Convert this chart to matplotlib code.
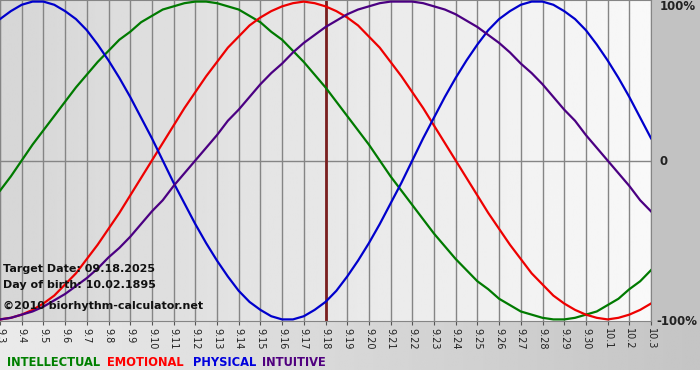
import numpy as np
import matplotlib.pyplot as plt

# day labels 9.3 .. 10.3
days = ["9.3", "9.4", "9.5", "9.6", "9.7", "9.8", "9.9", "9.10", "9.11", "9.12",
        "9.13", "9.14", "9.15", "9.16", "9.17", "9.18", "9.19", "9.20", "9.21", "9.22",
        "9.23", "9.24", "9.25", "9.26", "9.27", "9.28", "9.29", "9.30", "10.1", "10.2", "10.3"]
target_day = "9.18"

# curve values every half day (1 = 100%)
physical = [0.89, 0.94, 0.98, 1.00, 1.00, 0.98, 0.94, 0.89, 0.82, 0.73,
            0.63, 0.52, 0.40, 0.27, 0.14, 0.00, -0.14, -0.27, -0.40, -0.52,
            -0.63, -0.73, -0.82, -0.89, -0.94, -0.98, -1.00, -1.00, -0.98, -0.94,
            -0.89, -0.82, -0.73, -0.63, -0.52, -0.40, -0.27, -0.14, 0.00, 0.14,
            0.27, 0.40, 0.52, 0.63, 0.73, 0.82, 0.89, 0.94, 0.98, 1.00,
            1.00, 0.98, 0.94, 0.89, 0.82, 0.73, 0.63, 0.52, 0.40, 0.27, 0.14]
emotional = [-1.00, -0.99, -0.97, -0.94, -0.90, -0.85, -0.78, -0.71, -0.62, -0.53,
             -0.43, -0.33, -0.22, -0.11, 0.00, 0.11, 0.22, 0.33, 0.43, 0.53,
             0.62, 0.71, 0.78, 0.85, 0.90, 0.94, 0.97, 0.99, 1.00, 0.99,
             0.97, 0.94, 0.90, 0.85, 0.78, 0.71, 0.62, 0.53, 0.43, 0.33,
             0.22, 0.11, 0.00, -0.11, -0.22, -0.33, -0.43, -0.53, -0.62, -0.71,
             -0.78, -0.85, -0.90, -0.94, -0.97, -0.99, -1.00, -0.99, -0.97, -0.94, -0.90]
intellectual = [-0.19, -0.10, 0.00, 0.10, 0.19, 0.28, 0.37, 0.46, 0.54, 0.62,
                0.69, 0.76, 0.81, 0.87, 0.91, 0.95, 0.97, 0.99, 1.00, 1.00,
                0.99, 0.97, 0.95, 0.91, 0.87, 0.81, 0.76, 0.69, 0.62, 0.54,
                0.46, 0.37, 0.28, 0.19, 0.10, 0.00, -0.10, -0.19, -0.28, -0.37,
                -0.46, -0.54, -0.62, -0.69, -0.76, -0.81, -0.87, -0.91, -0.95, -0.97,
                -0.99, -1.00, -1.00, -0.99, -0.97, -0.95, -0.91, -0.87, -0.81, -0.76, -0.69]
intuitive = [-1.00, -0.99, -0.97, -0.95, -0.92, -0.88, -0.84, -0.79, -0.74, -0.68,
             -0.61, -0.55, -0.48, -0.40, -0.32, -0.25, -0.16, -0.08, 0.00, 0.08,
             0.16, 0.25, 0.32, 0.40, 0.48, 0.55, 0.61, 0.68, 0.74, 0.79,
             0.84, 0.88, 0.92, 0.95, 0.97, 0.99, 1.00, 1.00, 1.00, 0.99,
             0.97, 0.95, 0.92, 0.88, 0.84, 0.79, 0.74, 0.68, 0.61, 0.55,
             0.48, 0.40, 0.32, 0.25, 0.16, 0.08, 0.00, -0.08, -0.16, -0.25, -0.32]

x = np.arange(len(days))
xs = np.linspace(0, len(days) - 1, len(physical))

fig = plt.figure(figsize=(7, 3.8), dpi=100)

# background panels (right margin + bottom strip), pixel coords
bg = fig.add_axes([0, 0, 1, 1], zorder=-10)
bg.set_xlim(0, 700)
bg.set_ylim(380, 0)
bg.axis("off")
bg.add_patch(plt.Rectangle((651, 0), 49, 321, color="#c2c2c2", lw=0))
strip = np.linspace(0.92, 0.77, 256).reshape(1, -1)
bg.imshow(strip, extent=(0, 700, 370, 321), aspect="auto", cmap="gray", vmin=0, vmax=1)

ax = fig.add_axes([0, 59 / 380, 651 / 700, 321 / 380])
grad = np.linspace(0.84, 0.975, 256).reshape(1, -1)
ax.imshow(grad, extent=(0, 30, -1.01, 1.01), aspect="auto", cmap="gray",
          vmin=0, vmax=1, zorder=0)

for i in x:
    ax.axvline(i, color="#858585", lw=1, zorder=1)
ax.axhline(0, color="#858585", lw=1, zorder=1)

ax.axvline(days.index(target_day), color="#7a1f1f", lw=2, zorder=2)

lw = 1.6
ax.plot(xs, intellectual, color="#007a00", lw=lw, zorder=3)
ax.plot(xs, emotional, color="#ee0000", lw=lw, zorder=3)
ax.plot(xs, physical, color="#0000cc", lw=lw, zorder=3)
ax.plot(xs, intuitive, color="#4b0082", lw=lw, zorder=3)

ax.set_xlim(0, 30)
ax.set_ylim(-1.01, 1.01)
ax.set_xticks(x)
ax.set_xticklabels(days, rotation=270, fontsize=7, color="#222222")
ax.tick_params(axis="x", length=3, color="#555555", pad=2)
ax.set_yticks([])
for s in ax.spines.values():
    s.set_color("#858585")

for val, lab in [(0.966, "100%"), (-0.006, "0"), (-1.016, "-100%")]:
    ax.text(1.0 + (9 if lab == "0" else 5 if lab == "-100%" else 9) / 651, val, lab,
            transform=ax.get_yaxis_transform(), fontsize=8.5, fontweight="bold",
            color="#222222", va="center", ha="left")

info = dict(fontsize=8, fontweight="bold", color="#111111", zorder=5)
ax.text(3 / 651 * 30, -(270 - 161) / 160, "Target Date: 09.18.2025", va="center", **info)
ax.text(3 / 651 * 30, -(286 - 161) / 160, "Day of birth: 10.02.1895", va="center", **info)
ax.text(3 / 651 * 30, -(307 - 161) / 160, "\u00a92010 biorhythm-calculator.net", va="center", **info)

legend = [("INTELLECTUAL", "#008000"), ("EMOTIONAL", "#ff0000"),
          ("PHYSICAL", "#0000dd"), ("INTUITIVE", "#50007f")]
xpos = [7, 107, 193, 262]
for (name, col), xp in zip(legend, xpos):
    fig.text(xp / 700, 1 - 362 / 380, name, color=col, fontsize=8.3,
             fontweight="bold", va="center")

fig.savefig("out.png", dpi=100)
